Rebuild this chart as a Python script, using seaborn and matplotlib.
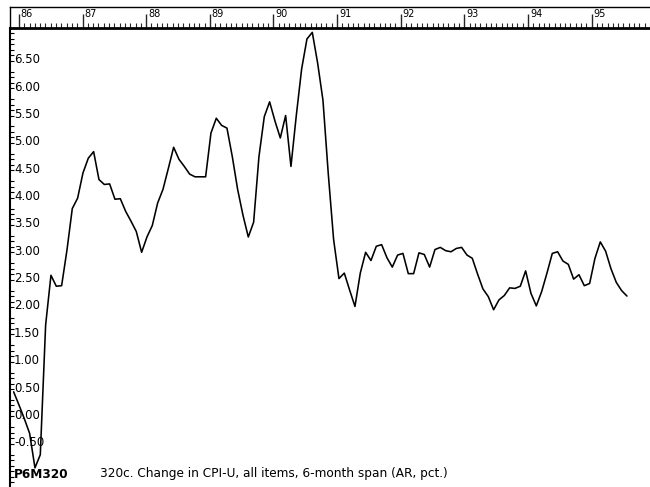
import numpy as np
import pandas as pd
import matplotlib
matplotlib.use('Agg')
import matplotlib.pyplot as plt
import seaborn as sb

# CPI-U, all items, 6-month span, annual rate (pct.), monthly from Dec 1985
start_month = '1985-12-01'
cpi_values = [
    0.55,
    0.31, 0.06, -0.21, -0.84, -0.60, 1.77, 2.68, 2.48, 2.49, 3.14, 3.90, 4.09,   # 1986
    4.55, 4.82, 4.94, 4.43, 4.34, 4.35, 4.07, 4.08, 3.85, 3.67, 3.48, 3.10,     # 1987
    3.38, 3.59, 4.00, 4.25, 4.63, 5.02, 4.80, 4.67, 4.53, 4.48, 4.48, 4.48,     # 1988
    5.28, 5.55, 5.42, 5.37, 4.85, 4.25, 3.78, 3.38, 3.65, 4.85, 5.58, 5.85,     # 1989
    5.50, 5.19, 5.60, 4.67, 5.60, 6.45, 7.00, 7.12, 6.56, 5.88, 4.53, 3.33,     # 1990
    2.62, 2.72, 2.41, 2.11, 2.72, 3.10, 2.95, 3.21, 3.24, 3.00, 2.83, 3.05,     # 1991
    3.08, 2.71, 2.71, 3.09, 3.06, 2.83, 3.15, 3.19, 3.13, 3.11, 3.17, 3.19,     # 1992
    3.05, 2.99, 2.70, 2.43, 2.29, 2.05, 2.23, 2.31, 2.45, 2.44, 2.48, 2.76,     # 1993
    2.35, 2.12, 2.38, 2.72, 3.08, 3.11, 2.94, 2.88, 2.61, 2.69, 2.49, 2.53,     # 1994
    2.99, 3.29, 3.12, 2.80, 2.55, 2.40, 2.30,                                   # 1995
]
years = list(range(1986, 1996))
year_labels = ['86', '87', '88', '89', '90', '91', '92', '93', '94', '95']
ytick_values = [-0.5, 0.0, 0.5, 1.0, 1.5, 2.0, 2.5, 3.0, 3.5, 4.0, 4.5, 5.0, 5.5, 6.0, 6.5]
series_id = 'P6M320'
title = '320c. Change in CPI-U, all items, 6-month span (AR, pct.)'

dates = pd.date_range(start_month, periods=len(cpi_values), freq='MS')
df = pd.DataFrame({'t': dates.year + (dates.month - 1) / 12.0, 'value': cpi_values})

sb.set_style('white')
plt.rcParams['font.family'] = ['DejaVu Sans']
plt.rcParams['text.color'] = 'black'

W, H = 650, 487
fig = plt.figure(figsize=(6.5, 4.87), dpi=100)
ax = fig.add_axes([10 / W, 0, 640 / W, (H - 28) / H])
ruler = fig.add_axes([10 / W, (H - 28) / H, 640 / W, 21 / H])

xlim = (1985.86, 1995.86)

# main line
sb.lineplot(data=df, x='t', y='value', color='black', linewidth=1.15, ax=ax)
ax.set_xlim(*xlim)
ax.set_ylim(-1.19, 7.2)
ax.set_xlabel('')
ax.set_ylabel('')
ax.set_xticks([])
for s in ['top', 'right', 'bottom']:
    ax.spines[s].set_visible(False)
ax.spines['left'].set_linewidth(1.5)
ax.spines['left'].set_color('black')

ax.set_yticks(ytick_values)
ax.set_yticklabels(['%.2f' % v for v in ytick_values])
ax.set_yticks(np.arange(-1.1, 7.15, 0.1), minor=True)
ax.tick_params(axis='y', which='major', direction='in', length=7.5, width=1.0,
               pad=-3, labelsize=8.5, colors='black')
ax.tick_params(axis='y', which='minor', direction='in', length=3, width=0.8,
               left=True, colors='black')
for lab in ax.get_yticklabels():
    lab.set_horizontalalignment('left')
    lab.set_verticalalignment('bottom')

# top ruler with years
ruler.set_xlim(*xlim)
ruler.set_ylim(0, 1)
ruler.set_yticks([])
ruler.set_xticks(years)
ruler.set_xticklabels([])
ruler.set_xticks(np.arange(1986, 1996, 1 / 12.0), minor=True)
ruler.tick_params(axis='x', which='major', direction='in', length=10, width=1.0, bottom=True)
ruler.tick_params(axis='x', which='minor', direction='in', length=3.5, width=0.8, bottom=True)
ruler.spines['right'].set_visible(False)
ruler.spines['top'].set_linewidth(1.0)
ruler.spines['bottom'].set_linewidth(2.0)
ruler.spines['left'].set_linewidth(1.0)
for s in ruler.spines.values():
    s.set_color('black')
for yr, lab in zip(years, year_labels):
    ruler.text(yr + 0.03, 0.66, lab, fontsize=7, va='center', ha='left', color='black',
               transform=ruler.get_xaxis_transform())

# footer
fig.text(14 / W, 1 - 474 / H, series_id, fontsize=8.7, fontweight='bold', va='center',
         ha='left', color='black')
fig.text(100 / W, 1 - 474 / H, title, fontsize=8.7, va='center', ha='left', color='black')

fig.savefig('out.png', dpi=100)
